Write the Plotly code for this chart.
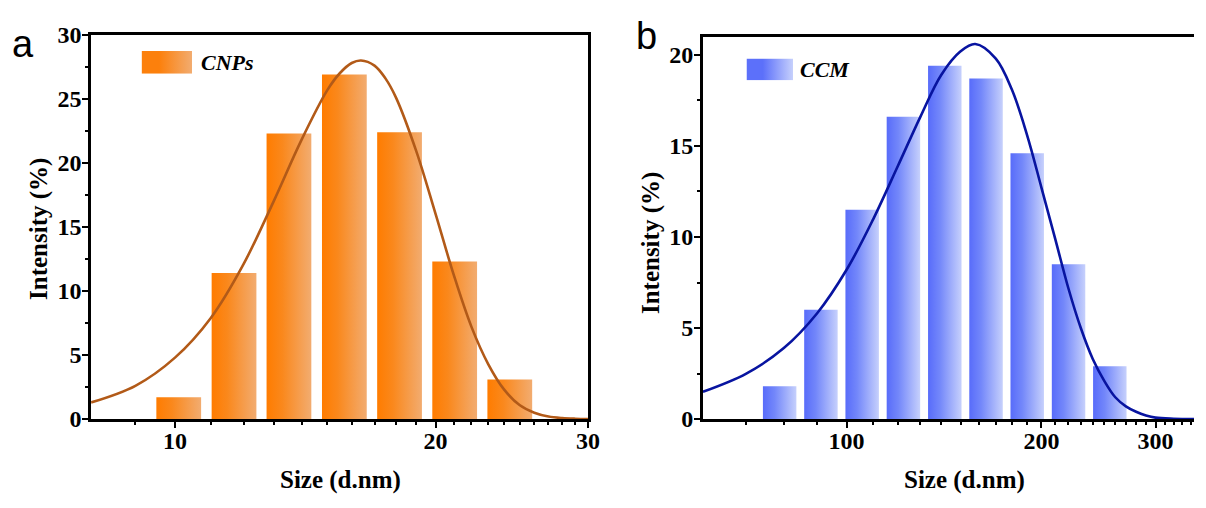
import math
import base64
import plotly.graph_objects as go

# ---------------- data ----------------
cnp_size = [10.10, 11.70, 13.54, 15.69, 18.17, 21.04, 24.36]          # d.nm (bin centres)
cnp_intensity = [1.7, 11.4, 22.3, 26.9, 22.4, 12.3, 3.1]              # %

ccm_size = [78.82, 91.28, 105.7, 122.4, 141.8, 164.2, 190.1, 220.2, 255.0]
ccm_intensity = [1.8, 6.0, 11.5, 16.6, 19.4, 18.7, 14.6, 8.5, 2.9]

cnp_fit_x = [8, 9, 10, 11, 12, 13, 14, 15, 15.5, 16, 16.4, 17, 17.5, 18, 19, 20,
             21, 22, 23, 24, 25, 26, 27, 28, 29, 30]
cnp_fit_y = [1.3, 2.6, 4.8, 7.9, 12.1, 17.0, 21.8, 25.7, 27.0, 27.8, 28.0, 27.6,
             26.6, 25.1, 20.9, 16.0, 11.2, 7.2, 4.3, 2.3, 1.1, 0.5, 0.2, 0.08,
             0.03, 0.01]

ccm_fit_x = [60, 70, 80, 90, 100, 110, 120, 130, 140, 150, 158, 170, 180, 190,
             200, 210, 220, 230, 240, 250, 260, 270, 280, 290, 300, 320, 344]
ccm_fit_y = [1.5, 2.5, 3.9, 5.8, 8.2, 11.0, 13.9, 16.6, 18.9, 20.2, 20.6, 19.8,
             18.1, 15.6, 12.7, 9.9, 7.2, 5.0, 3.3, 2.1, 1.2, 0.7, 0.4, 0.2,
             0.08, 0.02, 0.0]

cnp_xticks = [10, 20, 30]
cnp_xminor = [9, 11, 12, 13, 14, 15, 16, 17, 18, 19, 21, 22, 23, 24, 25, 26, 27, 28, 29]
ccm_xticks = [100, 200, 300]
ccm_xminor = [70, 80, 90, 110, 120, 130, 140, 150, 160, 170, 180, 190,
              210, 220, 230, 240, 250, 260, 270, 280, 290, 310, 320, 330, 340]

# ---------------- style ----------------
W, H = 1206, 508
BIN_RATIO = 1.1583          # spacing between adjacent size bins
BAR_FRAC = 0.81             # bar width as fraction of bin spacing (log space)
ORANGE = [[0, "rgb(255,124,0)"], [0.35, "rgb(250,136,28)"], [1, "rgb(242,172,112)"]]
BLUE = [[0, "rgb(88,108,250)"], [0.35, "rgb(115,135,250)"], [1, "rgb(198,208,252)"]]
ORANGE_LINE = "rgb(178,90,24)"
BLUE_LINE = "rgb(8,20,160)"
SERIF = "Liberation Serif"


def px(x):
    return x / W


def py(y):
    return 1 - y / H


half = 10 ** (BAR_FRAC * math.log10(BIN_RATIO) / 2)

fig = go.Figure()


def add_bars(sizes, vals, scale, xa, ya):
    for c, v in zip(sizes, vals):
        x0, x1 = c / half, c * half
        fig.add_trace(go.Scatter(
            x=[x0, x1, x1, x0, x0], y=[0, 0, v, v, 0],
            mode="lines", fill="toself", line=dict(width=0),
            fillgradient=dict(type="horizontal", colorscale=scale),
            xaxis=xa, yaxis=ya, showlegend=False, hoverinfo="skip"))


add_bars(cnp_size, cnp_intensity, ORANGE, "x", "y")
add_bars(ccm_size, ccm_intensity, BLUE, "x2", "y2")

fig.add_trace(go.Scatter(x=cnp_fit_x, y=cnp_fit_y, mode="lines",
                         line=dict(color=ORANGE_LINE, width=2.6, shape="spline"),
                         xaxis="x", yaxis="y", showlegend=False, hoverinfo="skip"))
fig.add_trace(go.Scatter(x=ccm_fit_x, y=ccm_fit_y, mode="lines",
                         line=dict(color=BLUE_LINE, width=2.6, shape="spline"),
                         xaxis="x2", yaxis="y2", showlegend=False, hoverinfo="skip"))

tickfont = dict(family=SERIF, size=24, color="black", weight="bold")
common = dict(showgrid=False, zeroline=False, showline=True, linecolor="black",
              linewidth=2.6, ticks="outside", ticklen=6, tickwidth=2,
              tickcolor="black", tickfont=tickfont)
minor_common = dict(ticks="outside", ticklen=3.5, tickwidth=2, tickcolor="black",
                    showgrid=False)

fig.update_layout(
    width=W, height=H, margin=dict(l=0, r=0, t=0, b=0),
    paper_bgcolor="white", plot_bgcolor="white",
    xaxis=dict(type="log", domain=[px(92), px(594)],
               range=[math.log10(8), math.log10(30)],
               tickmode="array", tickvals=cnp_xticks,
               ticktext=[str(v) for v in cnp_xticks],
               minor=dict(tickmode="array", tickvals=cnp_xminor, **minor_common),
               mirror=True, anchor="y", ticklabelstandoff=-8, **common),
    yaxis=dict(domain=[py(428), py(23)], range=[0, 30], tick0=0, dtick=5,
               minor=dict(dtick=2.5, **minor_common),
               mirror=True, anchor="x", ticklabelstandoff=-4, **common),
    xaxis2=dict(type="log", domain=[px(710), 1.0],
                range=[math.log10(60), math.log10(344)],
                tickmode="array", tickvals=ccm_xticks,
                ticktext=[str(v) for v in ccm_xticks],
                minor=dict(tickmode="array", tickvals=ccm_xminor, **minor_common),
                mirror=True, anchor="y2", ticklabelstandoff=-8, **common),
    yaxis2=dict(domain=[py(428), py(25)], range=[0, 21], tick0=0, dtick=5,
                minor=dict(dtick=2.5, **minor_common),
                mirror=False, anchor="x2", ticklabelstandoff=-4, **common),
)


def grad_svg(c0, c1):
    svg = ('<svg xmlns="http://www.w3.org/2000/svg" width="100" height="40" '
           'preserveAspectRatio="none">'
           '<defs><linearGradient id="g" x1="0" x2="1" y1="0" y2="0">'
           f'<stop offset="0" stop-color="{c0}"/>'
           f'<stop offset="0.35" stop-color="{c0}"/>'
           f'<stop offset="1" stop-color="{c1}"/></linearGradient></defs>'
           '<rect width="100" height="40" fill="url(#g)"/></svg>')
    return "data:image/svg+xml;base64," + base64.b64encode(svg.encode()).decode()


fig.add_layout_image(dict(source=grad_svg("rgb(252,128,12)", "rgb(242,172,112)"),
                          xref="paper", yref="paper", x=px(143), y=py(40),
                          sizex=px(51), sizey=24 / H, xanchor="left", yanchor="top",
                          sizing="stretch", layer="above"))
fig.add_layout_image(dict(source=grad_svg("rgb(92,112,250)", "rgb(198,208,252)"),
                          xref="paper", yref="paper", x=px(754), y=py(48),
                          sizex=px(47), sizey=23 / H, xanchor="left", yanchor="top",
                          sizing="stretch", layer="above"))

title_font = dict(family=SERIF, size=25, color="black", weight="bold")
legend_font = dict(family=SERIF, size=22, color="black", weight="bold", style="italic")
letter_font = dict(family="Liberation Sans", size=38, color="black")

ann = [
    dict(text="CNPs", x=px(201), y=py(52), xanchor="left", yanchor="middle", font=legend_font),
    dict(text="CCM", x=px(806), y=py(60), xanchor="left", yanchor="middle", font=legend_font),
    dict(text="Size (d.nm)", x=px(344), y=py(492), xanchor="center", yanchor="middle", font=title_font),
    dict(text="Size (d.nm)", x=px(974), y=py(492), xanchor="center", yanchor="middle", font=title_font),
    dict(text="Intensity (%)", x=px(40), y=py(228), xanchor="center", yanchor="middle",
         textangle=-90, font=title_font),
    dict(text="Intensity (%)", x=px(657), y=py(242), xanchor="center", yanchor="middle",
         textangle=-90, font=title_font),
    dict(text="a", x=px(23), y=py(33), xanchor="center", yanchor="middle", font=letter_font),
    dict(text="b", x=px(653), y=py(24), xanchor="center", yanchor="middle", font=letter_font),
]
for a in ann:
    a.update(xref="paper", yref="paper", showarrow=False)
    fig.add_annotation(**a)

fig.write_html("out.html")
